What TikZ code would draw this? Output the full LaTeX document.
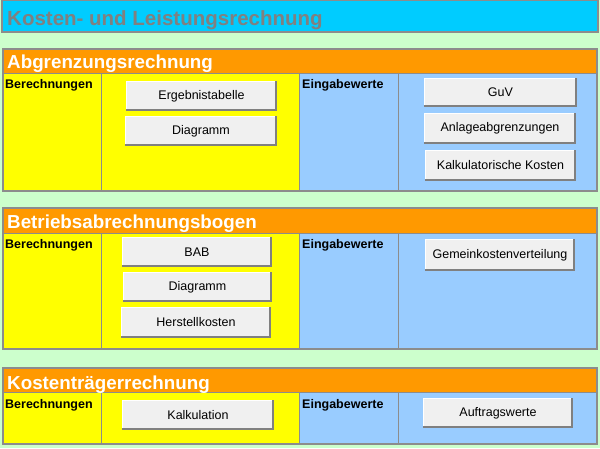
\documentclass[tikz,border=0pt]{standalone}
\usepackage{fontspec}
\setmainfont{Liberation Sans}
\definecolor{bggreen}{HTML}{CCFFCC}
\definecolor{titlecyan}{HTML}{00CCFF}
\definecolor{titlegray}{HTML}{808080}
\definecolor{framegray}{HTML}{8C8C8C}
\definecolor{hdrorange}{HTML}{FF9900}
\definecolor{cellyellow}{HTML}{FFFF00}
\definecolor{cellblue}{HTML}{99CCFF}
\definecolor{btnface}{HTML}{F0F0F0}
\definecolor{btnshade}{HTML}{808080}
\tikzset{
  btn/.style={fill=btnface, inner sep=0pt, text=black, font=\fontsize{12.5}{14}\selectfont},
  lbl/.style={anchor=base west, inner sep=0pt, text=black, font=\bfseries\fontsize{12.5}{14}\selectfont},
  hdr/.style={anchor=base west, inner sep=0pt, text=white, font=\bfseries\fontsize{18.8}{20}\selectfont},
  ttl/.style={anchor=base west, inner sep=0pt, text=titlegray, font=\bfseries\fontsize{20.5}{22}\selectfont},
  frame/.style={fill=framegray},
  btndark/.style={draw=btnshade, line width=2pt},
  btnlight/.style={draw=white, line width=1pt},
}
\newcommand\btnbox[6]{%
  \node[btn, minimum width={(#4-#2)*1pt}, minimum height={(#5-#3)*1pt}] (#1) at ({(#2+#4)/2},{(#3+#5)/2}) {#6};
  \path[btndark] ([yshift=1pt]#1.south west) -- ([xshift=-1pt,yshift=1pt]#1.south east) -- ([xshift=-1pt]#1.north east);
  \path[btnlight] ([xshift=0.5pt,yshift=2pt]#1.south west) -- ([xshift=0.5pt,yshift=-0.5pt]#1.north west) -- ([xshift=-2pt,yshift=-0.5pt]#1.north east);
}
\newcommand\kblock[3]{% top, bottom, y of header end
  \fill[frame] (2,#1) rectangle (598,#2);
  \fill[hdrorange] (4,#1+2) rectangle (596,#3);
  \fill[cellyellow] (4,#3+1) rectangle (299,#2-2);
  \fill[cellblue] (300,#3+1) rectangle (596,#2-2);
  \fill[frame] (101,#3+1) rectangle (102,#2-2);
  \fill[frame] (398,#3+1) rectangle (399,#2-2);
}
\begin{document}
\begin{tikzpicture}[x=1pt, y=-1pt]
\useasboundingbox (0,0) rectangle (600,448);
\fill[bggreen] (0,0) rectangle (600,448);
% title
\fill[frame] (1,0) rectangle (599,33);
\fill[titlecyan] (3,1) rectangle (597,31);
\node[ttl] (title) at (7,25) {Kosten- und Leistungsrechnung};
% block 1
\kblock{48}{192}{73}
\node[hdr] (h1) at (7,68) {Abgrenzungsrechnung};
\node[lbl] (b1) at (5,88) {Berechnungen};
\node[lbl] (e1) at (302,88) {Eingabewerte};
\btnbox{ergeb}{126}{81}{277}{111}{Ergebnistabelle}
\btnbox{diag1}{125}{116}{277}{146}{Diagramm}
\btnbox{guv}{424}{78}{577}{107}{GuV}
\btnbox{anlage}{424}{113}{576}{144}{Anlageabgrenzungen}
\btnbox{kalk}{425}{150}{576}{181}{Kalkulatorische Kosten}
% block 2
\kblock{207}{350}{233}
\node[hdr] (h2) at (7,228) {Betriebsabrechnungsbogen};
\node[lbl] (b2) at (5,248) {Berechnungen};
\node[lbl] (e2) at (302,248) {Eingabewerte};
\btnbox{bab}{122}{237}{272}{267}{BAB}
\btnbox{diag2}{123}{272}{272}{302}{Diagramm}
\btnbox{herst}{121}{307}{271}{338}{Herstellkosten}
\btnbox{gemein}{425}{239}{575}{271}{Gemeinkostenverteilung}
% block 3
\kblock{367}{445}{392}
\node[hdr] (h3) at (7,389) {Kostenträgerrechnung};
\node[lbl] (b3) at (5,408) {Berechnungen};
\node[lbl] (e3) at (302,408) {Eingabewerte};
\btnbox{kalkul}{122}{400}{274}{430}{Kalkulation}
\btnbox{auftrag}{423}{398}{573}{428}{Auftragswerte}
\end{tikzpicture}
\end{document}
